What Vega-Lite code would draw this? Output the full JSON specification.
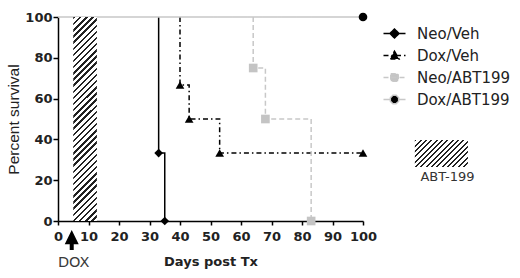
{
  "$schema": "https://vega.github.io/schema/vega-lite/v6.json",
  "width": 305,
  "height": 204,
  "autosize": {"type": "none"},
  "padding": {"left": 58, "top": 17, "right": 157, "bottom": 57},
  "background": "white",
  "config": {
    "view": {"stroke": null},
    "axisX": {
      "values": [0, 5, 10, 15, 20, 25, 30, 35, 40, 45, 50, 55, 60, 65, 70, 75, 80, 85, 90, 95, 100],
      "labelExpr": "datum.value % 10 === 0 ? datum.label : ''",
      "titleFont": "DejaVu Sans", "titleFontSize": 13, "titleFontWeight": "bold", "titleColor": "#222", "titlePadding": 12,
      "labelFont": "DejaVu Sans", "labelFontSize": 13, "labelFontWeight": "bold", "labelColor": "#222", "labelPadding": 5,
      "labelFlush": false, "labelOverlap": false, "grid": false,
      "tickSize": 4, "tickColor": "#000", "tickWidth": 1.5, "domainColor": "#000", "domainWidth": 1.5
    },
    "axisY": {
      "values": [0, 20, 40, 60, 80, 100],
      "titleFont": "Liberation Sans", "titleFontSize": 15.5, "titleFontWeight": "normal", "titleColor": "#222", "titlePadding": 3,
      "labelFont": "DejaVu Sans", "labelFontSize": 13, "labelFontWeight": "bold", "labelColor": "#222", "labelPadding": 1, "grid": false,
      "tickSize": 5, "tickColor": "#000", "tickWidth": 1.5, "domainColor": "#000", "domainWidth": 1.5
    },
    "legend": {
      "orient": "none", "legendX": 329, "legendY": 9, "padding": 0, "title": null,
      "symbolSize": 100, "labelFont": "DejaVu Sans", "labelFontSize": 15, "labelColor": "#222",
      "labelOffset": 15, "rowPadding": 6, "symbolOpacity": 1
    }
  },
  "datasets": {
    "survival": [
      {"series": "Neo/Veh", "day": 33, "pct": 100},
      {"series": "Neo/Veh", "day": 33, "pct": 33.3},
      {"series": "Neo/Veh", "day": 35, "pct": 0},
      {"series": "Dox/Veh", "day": 40, "pct": 100},
      {"series": "Dox/Veh", "day": 40, "pct": 66.7},
      {"series": "Dox/Veh", "day": 43, "pct": 50},
      {"series": "Dox/Veh", "day": 53, "pct": 33.3},
      {"series": "Dox/Veh", "day": 100, "pct": 33.3},
      {"series": "Neo/ABT199", "day": 64, "pct": 100},
      {"series": "Neo/ABT199", "day": 64, "pct": 75},
      {"series": "Neo/ABT199", "day": 68, "pct": 50},
      {"series": "Neo/ABT199", "day": 83, "pct": 0},
      {"series": "Dox/ABT199", "day": 0, "pct": 100},
      {"series": "Dox/ABT199", "day": 100, "pct": 100}
    ],
    "treatment": [{"drug": "ABT-199", "start": 5, "end": 12.75}],
    "induction": [{"drug": "DOX", "day": 4.5}]
  },
  "layer": [
    {
      "data": {"name": "survival"},
      "mark": {"type": "line", "interpolate": "step-after"},
      "encoding": {
        "x": {
          "field": "day", "type": "quantitative",
          "scale": {"domain": [0, 100], "nice": false, "zero": false},
          "axis": {"title": "Days post Tx"}
        },
        "y": {
          "field": "pct", "type": "quantitative",
          "scale": {"domain": [0, 100], "nice": false},
          "axis": {"title": "Percent survival"}
        },
        "stroke": {
          "field": "series", "type": "nominal",
          "scale": {"domain": ["Neo/Veh", "Dox/Veh", "Neo/ABT199", "Dox/ABT199"], "range": ["#000", "#000", "#c8c8c8", "#c8c8c8"]}
        },
        "strokeDash": {
          "field": "series", "type": "nominal",
          "scale": {"domain": ["Neo/Veh", "Dox/Veh", "Neo/ABT199", "Dox/ABT199"], "range": [[1, 0], [5, 3, 1.5, 3], [5, 3], [1, 0]]}
        },
        "strokeWidth": {
          "field": "series", "type": "ordinal",
          "scale": {"domain": ["Neo/Veh", "Dox/Veh", "Neo/ABT199", "Dox/ABT199"], "range": [1.5, 1.5, 1.5, 1]}
        },
        "order": [
          {"field": "day", "type": "quantitative"},
          {"field": "pct", "type": "quantitative", "sort": "descending"}
        ]
      }
    },
    {
      "data": {"name": "survival"},
      "transform": [{"filter": "false"}],
      "mark": {"type": "point", "filled": true, "opacity": 1},
      "encoding": {
        "x": {"field": "day", "type": "quantitative"},
        "y": {"field": "pct", "type": "quantitative"},
        "shape": {
          "field": "series", "type": "nominal",
          "scale": {
            "domain": ["Neo/Veh", "Dox/Veh", "Neo/ABT199", "Dox/ABT199"],
            "range": [
              "M-2.2,0L2.2,0M0,-0.9L0.9,0L0,0.9L-0.9,0Z",
              "M-2.2,0L2.2,0M0,-0.85L0.9,0.7L-0.9,0.7Z",
              "M-2.2,0L2.2,0M-0.75,-0.75L0.75,-0.75L0.75,0.75L-0.75,0.75Z",
              "M-2.2,0L-0.85,0M0.85,0L2.2,0M0.83,0.34L0.34,0.83L-0.34,0.83L-0.83,0.34L-0.83,-0.34L-0.34,-0.83L0.34,-0.83L0.83,-0.34Z"
            ]
          }
        },
        "color": {
          "field": "series", "type": "nominal",
          "scale": {"domain": ["Neo/Veh", "Dox/Veh", "Neo/ABT199", "Dox/ABT199"], "range": ["#000", "#000", "#c4c4c4", "#000"]}
        }
      }
    },
    {
      "data": {"name": "treatment"},
      "mark": {
        "type": "rect",
        "fill": {
          "gradient": "linear", "x1": 0, "y1": 0, "x2": 0.1377, "y2": 1.1902,
          "stops": [
            {"offset": 0, "color": "#222"}, {"offset": 0.01, "color": "#222"}, {"offset": 0.01, "color": "#fff"}, {"offset": 0.025, "color": "#fff"},
            {"offset": 0.025, "color": "#222"}, {"offset": 0.035, "color": "#222"}, {"offset": 0.035, "color": "#fff"}, {"offset": 0.05, "color": "#fff"},
            {"offset": 0.05, "color": "#222"}, {"offset": 0.06, "color": "#222"}, {"offset": 0.06, "color": "#fff"}, {"offset": 0.075, "color": "#fff"},
            {"offset": 0.075, "color": "#222"}, {"offset": 0.085, "color": "#222"}, {"offset": 0.085, "color": "#fff"}, {"offset": 0.1, "color": "#fff"},
            {"offset": 0.1, "color": "#222"}, {"offset": 0.11, "color": "#222"}, {"offset": 0.11, "color": "#fff"}, {"offset": 0.125, "color": "#fff"},
            {"offset": 0.125, "color": "#222"}, {"offset": 0.135, "color": "#222"}, {"offset": 0.135, "color": "#fff"}, {"offset": 0.15, "color": "#fff"},
            {"offset": 0.15, "color": "#222"}, {"offset": 0.16, "color": "#222"}, {"offset": 0.16, "color": "#fff"}, {"offset": 0.175, "color": "#fff"},
            {"offset": 0.175, "color": "#222"}, {"offset": 0.185, "color": "#222"}, {"offset": 0.185, "color": "#fff"}, {"offset": 0.2, "color": "#fff"},
            {"offset": 0.2, "color": "#222"}, {"offset": 0.21, "color": "#222"}, {"offset": 0.21, "color": "#fff"}, {"offset": 0.225, "color": "#fff"},
            {"offset": 0.225, "color": "#222"}, {"offset": 0.235, "color": "#222"}, {"offset": 0.235, "color": "#fff"}, {"offset": 0.25, "color": "#fff"},
            {"offset": 0.25, "color": "#222"}, {"offset": 0.26, "color": "#222"}, {"offset": 0.26, "color": "#fff"}, {"offset": 0.275, "color": "#fff"},
            {"offset": 0.275, "color": "#222"}, {"offset": 0.285, "color": "#222"}, {"offset": 0.285, "color": "#fff"}, {"offset": 0.3, "color": "#fff"},
            {"offset": 0.3, "color": "#222"}, {"offset": 0.31, "color": "#222"}, {"offset": 0.31, "color": "#fff"}, {"offset": 0.325, "color": "#fff"},
            {"offset": 0.325, "color": "#222"}, {"offset": 0.335, "color": "#222"}, {"offset": 0.335, "color": "#fff"}, {"offset": 0.35, "color": "#fff"},
            {"offset": 0.35, "color": "#222"}, {"offset": 0.36, "color": "#222"}, {"offset": 0.36, "color": "#fff"}, {"offset": 0.375, "color": "#fff"},
            {"offset": 0.375, "color": "#222"}, {"offset": 0.385, "color": "#222"}, {"offset": 0.385, "color": "#fff"}, {"offset": 0.4, "color": "#fff"},
            {"offset": 0.4, "color": "#222"}, {"offset": 0.41, "color": "#222"}, {"offset": 0.41, "color": "#fff"}, {"offset": 0.425, "color": "#fff"},
            {"offset": 0.425, "color": "#222"}, {"offset": 0.435, "color": "#222"}, {"offset": 0.435, "color": "#fff"}, {"offset": 0.45, "color": "#fff"},
            {"offset": 0.45, "color": "#222"}, {"offset": 0.46, "color": "#222"}, {"offset": 0.46, "color": "#fff"}, {"offset": 0.475, "color": "#fff"},
            {"offset": 0.475, "color": "#222"}, {"offset": 0.485, "color": "#222"}, {"offset": 0.485, "color": "#fff"}, {"offset": 0.5, "color": "#fff"},
            {"offset": 0.5, "color": "#222"}, {"offset": 0.51, "color": "#222"}, {"offset": 0.51, "color": "#fff"}, {"offset": 0.525, "color": "#fff"},
            {"offset": 0.525, "color": "#222"}, {"offset": 0.535, "color": "#222"}, {"offset": 0.535, "color": "#fff"}, {"offset": 0.55, "color": "#fff"},
            {"offset": 0.55, "color": "#222"}, {"offset": 0.56, "color": "#222"}, {"offset": 0.56, "color": "#fff"}, {"offset": 0.575, "color": "#fff"},
            {"offset": 0.575, "color": "#222"}, {"offset": 0.585, "color": "#222"}, {"offset": 0.585, "color": "#fff"}, {"offset": 0.6, "color": "#fff"},
            {"offset": 0.6, "color": "#222"}, {"offset": 0.61, "color": "#222"}, {"offset": 0.61, "color": "#fff"}, {"offset": 0.625, "color": "#fff"},
            {"offset": 0.625, "color": "#222"}, {"offset": 0.635, "color": "#222"}, {"offset": 0.635, "color": "#fff"}, {"offset": 0.65, "color": "#fff"},
            {"offset": 0.65, "color": "#222"}, {"offset": 0.66, "color": "#222"}, {"offset": 0.66, "color": "#fff"}, {"offset": 0.675, "color": "#fff"},
            {"offset": 0.675, "color": "#222"}, {"offset": 0.685, "color": "#222"}, {"offset": 0.685, "color": "#fff"}, {"offset": 0.7, "color": "#fff"},
            {"offset": 0.7, "color": "#222"}, {"offset": 0.71, "color": "#222"}, {"offset": 0.71, "color": "#fff"}, {"offset": 0.725, "color": "#fff"},
            {"offset": 0.725, "color": "#222"}, {"offset": 0.735, "color": "#222"}, {"offset": 0.735, "color": "#fff"}, {"offset": 0.75, "color": "#fff"},
            {"offset": 0.75, "color": "#222"}, {"offset": 0.76, "color": "#222"}, {"offset": 0.76, "color": "#fff"}, {"offset": 0.775, "color": "#fff"},
            {"offset": 0.775, "color": "#222"}, {"offset": 0.785, "color": "#222"}, {"offset": 0.785, "color": "#fff"}, {"offset": 0.8, "color": "#fff"},
            {"offset": 0.8, "color": "#222"}, {"offset": 0.81, "color": "#222"}, {"offset": 0.81, "color": "#fff"}, {"offset": 0.825, "color": "#fff"},
            {"offset": 0.825, "color": "#222"}, {"offset": 0.835, "color": "#222"}, {"offset": 0.835, "color": "#fff"}, {"offset": 0.85, "color": "#fff"},
            {"offset": 0.85, "color": "#222"}, {"offset": 0.86, "color": "#222"}, {"offset": 0.86, "color": "#fff"}, {"offset": 0.875, "color": "#fff"},
            {"offset": 0.875, "color": "#222"}, {"offset": 0.885, "color": "#222"}, {"offset": 0.885, "color": "#fff"}, {"offset": 0.9, "color": "#fff"},
            {"offset": 0.9, "color": "#222"}, {"offset": 0.91, "color": "#222"}, {"offset": 0.91, "color": "#fff"}, {"offset": 1, "color": "#fff"}
          ]
        }
      },
      "encoding": {
        "x": {"field": "start", "type": "quantitative"},
        "x2": {"field": "end"},
        "y": {"datum": 0, "type": "quantitative"},
        "y2": {"datum": 100}
      }
    },
    {
      "data": {"name": "survival"},
      "transform": [{"filter": "datum.series === 'Neo/Veh' && datum.pct < 100"}],
      "mark": {"type": "point", "filled": true, "size": 75, "opacity": 1, "shape": "diamond"},
      "encoding": {
        "x": {"field": "day", "type": "quantitative"},
        "y": {"field": "pct", "type": "quantitative"},
        "color": {"field": "series", "type": "nominal"}
      }
    },
    {
      "data": {"name": "survival"},
      "transform": [{"filter": "datum.series === 'Dox/Veh' && datum.pct < 100"}],
      "mark": {"type": "point", "filled": true, "size": 75, "opacity": 1, "shape": "triangle-up"},
      "encoding": {
        "x": {"field": "day", "type": "quantitative"},
        "y": {"field": "pct", "type": "quantitative"},
        "color": {"field": "series", "type": "nominal"}
      }
    },
    {
      "data": {"name": "survival"},
      "transform": [{"filter": "datum.series === 'Neo/ABT199' && datum.pct < 100"}],
      "mark": {"type": "point", "filled": true, "size": 75, "opacity": 1, "shape": "square"},
      "encoding": {
        "x": {"field": "day", "type": "quantitative"},
        "y": {"field": "pct", "type": "quantitative"},
        "color": {"field": "series", "type": "nominal"}
      }
    },
    {
      "data": {"name": "survival"},
      "transform": [{"filter": "datum.series === 'Dox/ABT199' && datum.day === 100"}],
      "mark": {"type": "point", "filled": true, "size": 75, "opacity": 1, "shape": "circle"},
      "encoding": {
        "x": {"field": "day", "type": "quantitative"},
        "y": {"field": "pct", "type": "quantitative"},
        "color": {"field": "series", "type": "nominal"}
      }
    },
    {
      "data": {"name": "treatment"},
      "mark": {
        "type": "rect",
        "fill": {
          "gradient": "linear", "x1": 0, "y1": 0, "x2": 1.3317, "y2": 0.6784,
          "stops": [
            {"offset": 0, "color": "#222"}, {"offset": 0.022, "color": "#222"}, {"offset": 0.022, "color": "#fff"}, {"offset": 0.06, "color": "#fff"},
            {"offset": 0.06, "color": "#222"}, {"offset": 0.082, "color": "#222"}, {"offset": 0.082, "color": "#fff"}, {"offset": 0.12, "color": "#fff"},
            {"offset": 0.12, "color": "#222"}, {"offset": 0.142, "color": "#222"}, {"offset": 0.142, "color": "#fff"}, {"offset": 0.18, "color": "#fff"},
            {"offset": 0.18, "color": "#222"}, {"offset": 0.202, "color": "#222"}, {"offset": 0.202, "color": "#fff"}, {"offset": 0.24, "color": "#fff"},
            {"offset": 0.24, "color": "#222"}, {"offset": 0.262, "color": "#222"}, {"offset": 0.262, "color": "#fff"}, {"offset": 0.3, "color": "#fff"},
            {"offset": 0.3, "color": "#222"}, {"offset": 0.322, "color": "#222"}, {"offset": 0.322, "color": "#fff"}, {"offset": 0.36, "color": "#fff"},
            {"offset": 0.36, "color": "#222"}, {"offset": 0.382, "color": "#222"}, {"offset": 0.382, "color": "#fff"}, {"offset": 0.42, "color": "#fff"},
            {"offset": 0.42, "color": "#222"}, {"offset": 0.442, "color": "#222"}, {"offset": 0.442, "color": "#fff"}, {"offset": 0.48, "color": "#fff"},
            {"offset": 0.48, "color": "#222"}, {"offset": 0.502, "color": "#222"}, {"offset": 0.502, "color": "#fff"}, {"offset": 0.54, "color": "#fff"},
            {"offset": 0.54, "color": "#222"}, {"offset": 0.562, "color": "#222"}, {"offset": 0.562, "color": "#fff"}, {"offset": 0.6, "color": "#fff"},
            {"offset": 0.6, "color": "#222"}, {"offset": 0.622, "color": "#222"}, {"offset": 0.622, "color": "#fff"}, {"offset": 0.66, "color": "#fff"},
            {"offset": 0.66, "color": "#222"}, {"offset": 0.682, "color": "#222"}, {"offset": 0.682, "color": "#fff"}, {"offset": 0.72, "color": "#fff"},
            {"offset": 0.72, "color": "#222"}, {"offset": 0.742, "color": "#222"}, {"offset": 0.742, "color": "#fff"}, {"offset": 0.78, "color": "#fff"},
            {"offset": 0.78, "color": "#222"}, {"offset": 0.802, "color": "#222"}, {"offset": 0.802, "color": "#fff"}, {"offset": 0.84, "color": "#fff"},
            {"offset": 0.84, "color": "#222"}, {"offset": 0.862, "color": "#222"}, {"offset": 0.862, "color": "#fff"}, {"offset": 1, "color": "#fff"}
          ]
        }
      },
      "encoding": {
        "x": {"datum": 117, "type": "quantitative"},
        "x2": {"datum": 134.4},
        "y": {"datum": 39.7, "type": "quantitative"},
        "y2": {"datum": 26.5}
      }
    },
    {
      "data": {"name": "treatment"},
      "mark": {"type": "text", "font": "DejaVu Sans", "fontSize": 13, "color": "#333", "align": "center", "baseline": "middle"},
      "encoding": {
        "text": {"field": "drug"},
        "x": {"datum": 127.7, "type": "quantitative"},
        "y": {"datum": 21.7, "type": "quantitative"}
      }
    },
    {
      "data": {"name": "induction"},
      "mark": {"type": "point", "filled": true, "opacity": 1, "color": "#000", "size": 400, "shape": "M0,-1L0.7,0.42L0.2,0.42L0.2,1L-0.2,1L-0.2,0.42L-0.7,0.42Z"},
      "encoding": {
        "x": {"field": "day", "type": "quantitative"},
        "y": {"datum": -9.3, "type": "quantitative"}
      }
    },
    {
      "data": {"name": "induction"},
      "mark": {"type": "text", "font": "DejaVu Sans", "fontSize": 14.5, "color": "#3a3a3a", "align": "center", "baseline": "middle", "dx": 2},
      "encoding": {
        "text": {"field": "drug"},
        "x": {"field": "day", "type": "quantitative"},
        "y": {"datum": -20.6, "type": "quantitative"}
      }
    }
  ]
}
